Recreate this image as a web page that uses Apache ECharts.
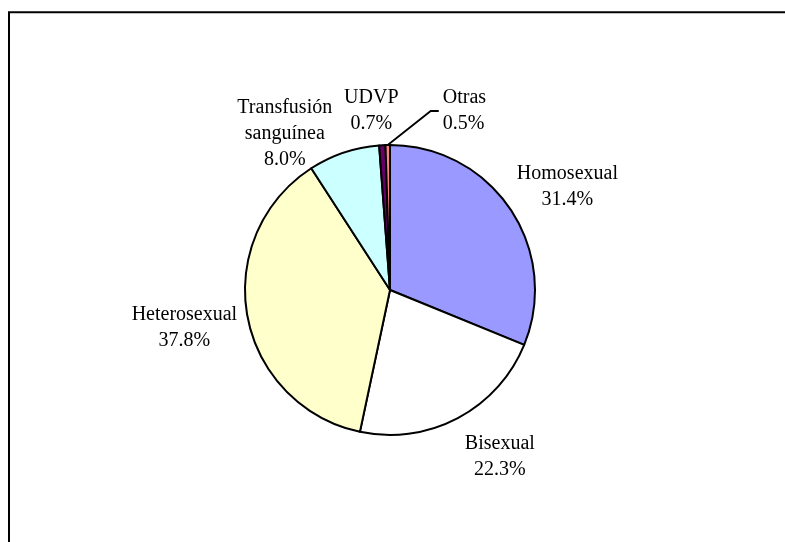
<!DOCTYPE html>
<html><head><meta charset="utf-8">
<script src="https://cdn.jsdelivr.net/npm/echarts@6/dist/echarts.min.js"></script>
<style>html,body{margin:0;padding:0;background:#fff}#c{width:785px;height:542px}</style>
</head><body><div id="c"></div>
<script>
const categories = ['Homosexual', 'Bisexual', 'Heterosexual', 'Transfusión\nsanguínea', 'UDVP', 'Otras'];
const values = [31.4, 22.3, 37.8, 8.0, 0.7, 0.5];

const sliceColors = ['#9999FF', '#FFFFFF', '#FFFFCC', '#CCFFFF', '#660066', '#FF8080'];
// label offsets from the slice's outer mid point (layout only)
const labelOffset = [[57, -22], [42, 39], [-63, 11], [-59, -19], [-11, -34], [55, -34]];
const CX = 390, CY = 290, R = 145;
const total = values.reduce((a, b) => a + b, 0);
function midAngle(i) {
  let cum = 0;
  for (let k = 0; k < i; k++) cum += values[k];
  return 2 * Math.PI * (cum + values[i] / 2) / total;
}

const chart = echarts.init(document.getElementById('c'), null, {renderer: 'canvas'});
chart.setOption({
  animation: false,
  backgroundColor: '#fff',
  color: sliceColors,
  graphic: [{
    type: 'rect', silent: true,
    shape: {x: 9, y: 12.3, width: 800, height: 560},
    style: {fill: 'none', stroke: '#000', lineWidth: 2}
  }],
  series: [{
    type: 'pie',
    center: [CX, CY],
    radius: R,
    startAngle: 90,
    clockwise: true,
    avoidLabelOverlap: false,
    itemStyle: {borderColor: '#000', borderWidth: 2},
    label: {
      show: true,
      position: 'outside',
      color: '#000',
      fontFamily: '"Liberation Serif", "Times New Roman", serif',
      fontSize: 20,
      lineHeight: 26,
      formatter: p => p.name + '\n' + p.value.toFixed(1) + '%'
    },
    labelLine: {show: false, lineStyle: {color: '#000', width: 1.8}},
    emphasis: {disabled: true},
    labelLayout: function (p) {
      const i = p.dataIndex;
      const a = midAngle(i);
      const ex = CX + R * Math.sin(a), ey = CY - R * Math.cos(a);
      const lx = ex + labelOffset[i][0], ly = ey + labelOffset[i][1];
      if (i === values.length - 1) {
        return {x: lx, y: ly, align: 'left', verticalAlign: 'middle',
          labelLinePoints: [[ex, ey], [lx - 12, ly], [lx - 4, ly]]};
      }
      return {x: lx, y: ly, align: 'center', verticalAlign: 'middle'};
    },
    data: categories.map((c, i) => ({
      name: c, value: values[i],
      labelLine: {show: i === values.length - 1}
    }))
  }]
});
</script></body></html>
